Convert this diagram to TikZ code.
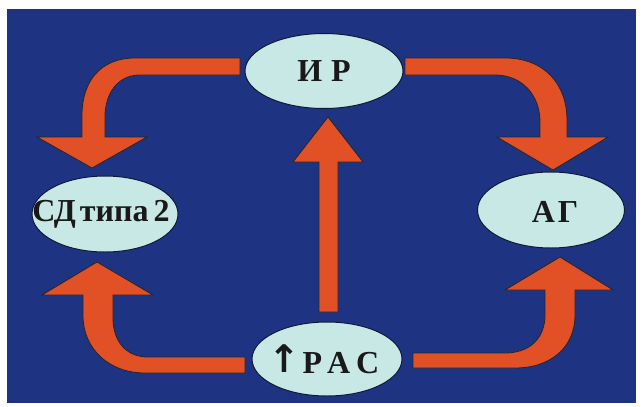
\documentclass[tikz,border=0pt]{standalone}
\usepackage{fontspec}
\setmainfont{Liberation Serif}
\newfontfamily\symfont{DejaVu Sans}
\usetikzlibrary{shapes.geometric}
\definecolor{bgblue}{RGB}{30,52,130}
\definecolor{arroworange}{RGB}{226,80,38}
\definecolor{ellfill}{RGB}{200,232,230}
\definecolor{ellline}{RGB}{15,25,55}
\tikzset{
  ell/.style={ellipse, draw=ellline, line width=1pt, fill=ellfill, inner sep=0pt},
  lbl/.style={inner sep=0pt, text=black!90, font=\bfseries\fontsize{32}{32}\selectfont},
  blockarrow/.style={fill=arroworange, draw=black!85, line width=0.8pt, line join=miter}
}
\begin{document}
\begin{tikzpicture}[x=1pt,y=-1pt]
\useasboundingbox[fill=white] (0,0) rectangle (643,407);
\fill[bgblue] (7,9) rectangle (636,403);

% nodes
\node[ell, minimum width=158pt, minimum height=75pt] (ir) at (324,71) {};
\node[lbl] at (ir) {И\hspace{9pt}Р};
\node[ell, minimum width=146pt, minimum height=76pt] (sd) at (105,214) {};
\node[lbl] at ([xshift=-4pt]sd.center) {СД\hspace{4pt}типа\hspace{5pt}2};
\node[ell, minimum width=147pt, minimum height=76pt] (ag) at (551,210) {};
\node[lbl] at ([xshift=4pt,yshift=-2pt]ag.center) {А\hspace{3pt}Г};
\node[ell, minimum width=150pt, minimum height=74pt] (ras) at (327,359) {};
\node[lbl] at ([xshift=-3pt]ras.center) {\raisebox{1pt}{\symfont\bfseries\fontsize{38}{38}\selectfont ↑}\hspace{2pt}Р\hspace{5pt}А\hspace{6pt}С};

% IR -> SD (top left)
\draw[blockarrow] (240,58) -- (135,58) .. controls (100,58) and (82,82) .. (82,115)
  -- (82,137) -- (37,137) -- (92,168) -- (147,137) -- (105,137) -- (105,117)
  .. controls (105,93) and (118,75) .. (140,75) -- (240,75) -- cycle;

% IR -> AG (top right)
\draw[blockarrow] (405,58) -- (505,58) .. controls (545,58) and (567,85) .. (567,120)
  -- (567,137) -- (608,137) -- (553,170) -- (497,137) -- (540,137) -- (540,122)
  .. controls (540,95) and (522,75) .. (495,75) -- (405,75) -- cycle;

% RAS -> SD (bottom left)
\draw[blockarrow] (245,357) -- (148,357) .. controls (125,357) and (113,340) .. (113,318)
  -- (113,295) -- (153,295) -- (97,262) -- (42,295) -- (83,295) -- (83,315)
  .. controls (83,350) and (110,373) .. (145,373) -- (245,373) -- cycle;

% RAS -> AG (bottom right)
\draw[blockarrow] (413,353) -- (505,353) .. controls (530,353) and (545,338) .. (545,315)
  -- (545,290) -- (505,290) -- (560,257) -- (613,290) -- (575,290) -- (575,315)
  .. controls (575,348) and (550,368) .. (515,368) -- (413,368) -- cycle;

% RAS -> IR (vertical)
\draw[blockarrow] (319,312) -- (319,162) -- (293,162) -- (328,117) -- (363,162)
  -- (338,162) -- (338,312) -- cycle;
\end{tikzpicture}
\end{document}
